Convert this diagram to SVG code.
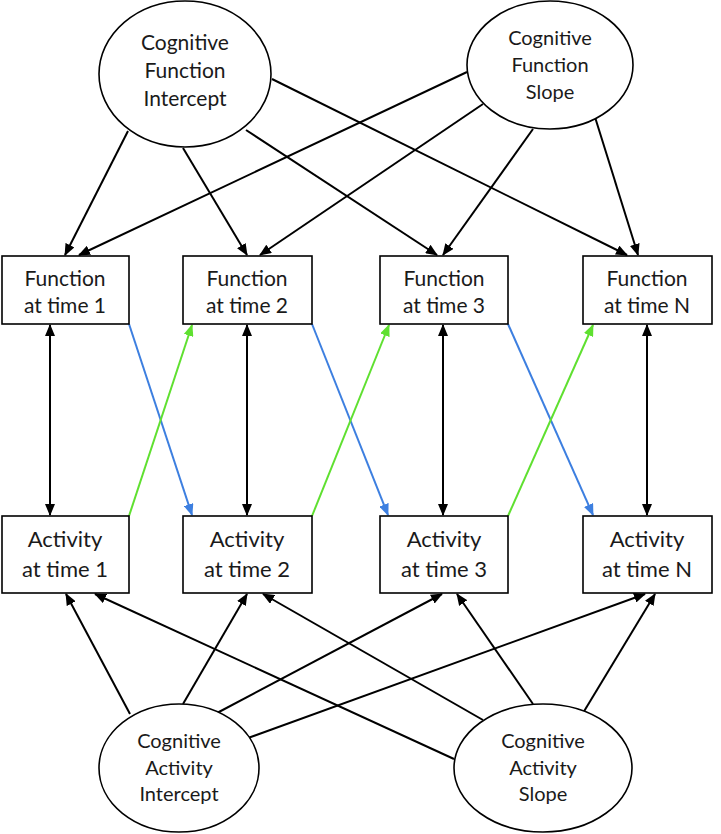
<svg xmlns="http://www.w3.org/2000/svg" width="721" height="834" viewBox="0 0 721 834">
<style>
.node{fill:#fff;stroke:#000;stroke-width:1.6}
.t{font-family:Lato,"Open Sans","Liberation Sans",sans-serif;fill:#1a1a1a;text-anchor:middle}
.e{font-size:21px}
.b{font-size:20px}
.f{font-size:21px}
.a{font-size:22px}
.c{stroke:#000;stroke-width:2;fill:none;marker-end:url(#ah)}
.d{stroke:#000;stroke-width:2;fill:none;marker-end:url(#ah);marker-start:url(#ah)}
.bl{stroke:#3d7fe0;stroke-width:2;fill:none;marker-end:url(#ahb)}
.gr{stroke:#5fe030;stroke-width:2;fill:none;marker-end:url(#ahg)}
</style>
<defs>
<marker id="ah" markerUnits="userSpaceOnUse" markerWidth="12" markerHeight="10" refX="11" refY="5" orient="auto-start-reverse"><path d="M0,0 L12,5 L0,10 z" fill="#000"/></marker>
<marker id="ahb" markerUnits="userSpaceOnUse" markerWidth="12" markerHeight="10" refX="11" refY="5" orient="auto"><path d="M0,0 L12,5 L0,10 z" fill="#3d7fe0"/></marker>
<marker id="ahg" markerUnits="userSpaceOnUse" markerWidth="12" markerHeight="10" refX="11" refY="5" orient="auto"><path d="M0,0 L12,5 L0,10 z" fill="#5fe030"/></marker>
</defs>
<rect width="721" height="834" fill="#fff"/>
<g id="connectors">
<line class="c" x1="128" y1="131" x2="65" y2="255"/>
<line class="c" x1="183" y1="148" x2="247" y2="255"/>
<line class="c" x1="246" y1="130" x2="437" y2="255"/>
<line class="c" x1="272" y1="79" x2="627" y2="255"/>
<line class="c" x1="467" y1="72" x2="79" y2="255"/>
<line class="c" x1="483" y1="104" x2="260" y2="255"/>
<line class="c" x1="533" y1="129" x2="443" y2="255"/>
<line class="c" x1="595" y1="117" x2="638" y2="255"/>
<line class="d" x1="50" y1="325" x2="50" y2="515"/>
<line class="d" x1="247" y1="325" x2="247" y2="515"/>
<line class="d" x1="443" y1="325" x2="443" y2="515"/>
<line class="d" x1="647" y1="325" x2="647" y2="515"/>
<line class="bl" x1="129" y1="324" x2="192" y2="515"/>
<line class="bl" x1="312" y1="324" x2="388" y2="515"/>
<line class="bl" x1="508" y1="324" x2="593" y2="515"/>
<line class="gr" x1="129" y1="516" x2="192" y2="325"/>
<line class="gr" x1="312" y1="516" x2="389" y2="325"/>
<line class="gr" x1="508" y1="516" x2="593" y2="325"/>
<line class="c" x1="130" y1="714" x2="66" y2="594"/>
<line class="c" x1="183" y1="704" x2="247" y2="594"/>
<line class="c" x1="217" y1="713" x2="442" y2="594"/>
<line class="c" x1="248" y1="738" x2="645" y2="594"/>
<line class="c" x1="454" y1="759" x2="95" y2="594"/>
<line class="c" x1="483" y1="720" x2="263" y2="594"/>
<line class="c" x1="533" y1="704" x2="457" y2="594"/>
<line class="c" x1="583" y1="713" x2="655" y2="594"/>
</g>
<g id="cf_intercept">
<ellipse class="node" cx="185" cy="74" rx="86" ry="73"/>
<text class="t e" x="185" y="50">Cognitive</text>
<text class="t e" x="185" y="78">Function</text>
<text class="t e" x="185" y="106">Intercept</text>
</g>
<g id="cf_slope">
<ellipse class="node" cx="550" cy="65" rx="83" ry="64"/>
<text class="t b" x="550" y="45">Cognitive</text>
<text class="t b" x="550" y="72">Function</text>
<text class="t b" x="550" y="99">Slope</text>
</g>
<g id="f1"><rect class="node" x="2" y="256" width="127" height="68"/><text class="t f" x="65" y="286">Function</text><text class="t f" x="65" y="313">at time 1</text></g>
<g id="f2"><rect class="node" x="183" y="256" width="129" height="68"/><text class="t f" x="247" y="286">Function</text><text class="t f" x="247" y="313">at time 2</text></g>
<g id="f3"><rect class="node" x="380" y="256" width="128" height="68"/><text class="t f" x="444" y="286">Function</text><text class="t f" x="444" y="313">at time 3</text></g>
<g id="fn"><rect class="node" x="583" y="256" width="129" height="68"/><text class="t f" x="647" y="286">Function</text><text class="t f" x="647" y="313">at time N</text></g>
<g id="a1"><rect class="node" x="2" y="516" width="127" height="77"/><text class="t a" x="65" y="547">Activity</text><text class="t a" x="65" y="577">at time 1</text></g>
<g id="a2"><rect class="node" x="183" y="516" width="129" height="77"/><text class="t a" x="247" y="547">Activity</text><text class="t a" x="247" y="577">at time 2</text></g>
<g id="a3"><rect class="node" x="380" y="516" width="128" height="77"/><text class="t a" x="444" y="547">Activity</text><text class="t a" x="444" y="577">at time 3</text></g>
<g id="an"><rect class="node" x="583" y="516" width="129" height="77"/><text class="t a" x="647" y="547">Activity</text><text class="t a" x="647" y="577">at time N</text></g>
<g id="ca_intercept">
<ellipse class="node" cx="179" cy="768" rx="80" ry="64"/>
<text class="t b" x="179" y="748">Cognitive</text>
<text class="t b" x="179" y="775">Activity</text>
<text class="t b" x="179" y="801">Intercept</text>
</g>
<g id="ca_slope">
<ellipse class="node" cx="543" cy="768" rx="89" ry="64"/>
<text class="t b" x="543" y="748">Cognitive</text>
<text class="t b" x="543" y="775">Activity</text>
<text class="t b" x="543" y="801">Slope</text>
</g>
</svg>
